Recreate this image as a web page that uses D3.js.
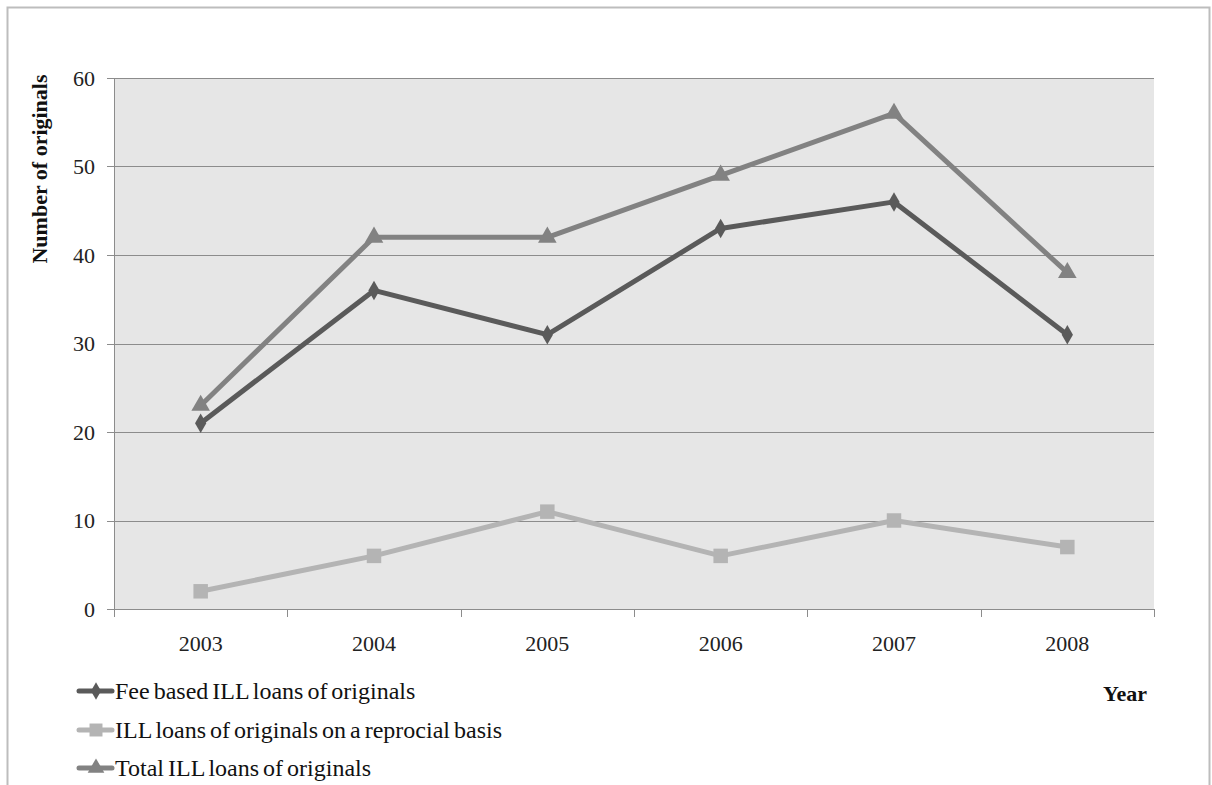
<!DOCTYPE html>
<html><head><meta charset="utf-8">
<script src="https://cdn.jsdelivr.net/npm/d3@7"></script>
<style>body{margin:0;background:#fff}svg{display:block}</style>
</head><body>
<svg id="c" width="1212" height="785"></svg>
<script>
const years = ["2003","2004","2005","2006","2007","2008"];
const feeBased = [21,36,31,43,46,31];
const reciprocal = [2,6,11,6,10,7];
const total = [23,42,42,49,56,38];
const yTicks = [0,10,20,30,40,50,60];
const seriesNames = ["Fee based ILL loans of originals","ILL loans of originals on a reprocial basis","Total ILL loans of originals"];

const svg = d3.select("#c");
const font = "'Liberation Serif','Times New Roman',serif";
svg.append("rect").attr("x",7.5).attr("y",7.5).attr("width",1202).attr("height",800)
  .attr("fill","none").attr("stroke","#bdbdbd").attr("stroke-width",2);

const L=114, R=1154, T=78, B=609;
const x = d3.scaleBand().domain(years).range([L,R]);
const y = d3.scaleLinear().domain([0,60]).range([B,T]);

svg.append("rect").attr("x",L).attr("y",T).attr("width",R-L).attr("height",B-T).attr("fill","#e6e6e6");

svg.append("g").selectAll("line").data(yTicks).join("line")
  .attr("x1",L-7).attr("x2",R).attr("y1",d=>Math.round(y(d))+0.5).attr("y2",d=>Math.round(y(d))+0.5)
  .attr("stroke","#8c8c8c").attr("stroke-width",1);
svg.append("line").attr("x1",L+0.5).attr("x2",L+0.5).attr("y1",T).attr("y2",B).attr("stroke","#8c8c8c");
svg.append("g").selectAll("text").data(yTicks).join("text")
  .attr("x",L-19).attr("y",d=>y(d)).attr("dy","0.35em").attr("text-anchor","end")
  .attr("font-family",font).attr("font-size",22).attr("fill","#222").text(d=>d);
const bounds = years.map(d=>x(d)).concat([R]);
svg.append("g").selectAll("line").data(bounds).join("line")
  .attr("x1",d=>Math.round(d)+0.5).attr("x2",d=>Math.round(d)+0.5).attr("y1",B).attr("y2",B+8)
  .attr("stroke","#8c8c8c");
svg.append("g").selectAll("text").data(years).join("text")
  .attr("x",d=>x(d)+x.bandwidth()/2).attr("y",651).attr("text-anchor","middle")
  .attr("font-family",font).attr("font-size",22).attr("fill","#222").text(d=>d);

svg.append("text").attr("transform","translate(47,169) rotate(-90)")
  .attr("text-anchor","middle").attr("font-family",font).attr("font-size",22).attr("font-weight","bold")
  .attr("fill","#111").text("Number of originals");
svg.append("text").attr("x",1147).attr("y",701).attr("text-anchor","end")
  .attr("font-family",font).attr("font-size",22).attr("font-weight","bold").attr("fill","#111").text("Year");

const series = [
  {name:seriesNames[0], values:feeBased, color:"#5a5a5a", sym:d3.symbolDiamond, size:110},
  {name:seriesNames[1], values:reciprocal, color:"#b4b4b4", sym:d3.symbolSquare, size:210},
  {name:seriesNames[2], values:total, color:"#828282", sym:d3.symbolTriangle, size:150}
];
const cx = d=>x(d)+x.bandwidth()/2;
const line = d3.line().x(d=>cx(d.year)).y(d=>y(d.v));
[1,0,2].forEach(i=>{
  const s = series[i];
  const pts = years.map((yr,j)=>({year:yr,v:s.values[j]}));
  svg.append("path").datum(pts).attr("d",line).attr("fill","none")
    .attr("stroke",s.color).attr("stroke-width",5).attr("stroke-linejoin","round");
  svg.append("g").selectAll("path").data(pts).join("path")
    .attr("transform",d=>`translate(${cx(d.year)},${y(d.v)})`)
    .attr("d",d3.symbol().type(s.sym).size(s.size)).attr("fill",s.color);
});

const ly = [691,730,768];
series.forEach((s,i)=>{
  const g = svg.append("g").attr("transform",`translate(0,${ly[i]})`);
  g.append("line").attr("x1",79).attr("x2",112).attr("y1",0).attr("y2",0)
    .attr("stroke",s.color).attr("stroke-width",5).attr("stroke-linecap","round");
  g.append("path").attr("transform","translate(96,0)")
    .attr("d",d3.symbol().type(s.sym).size(s.size*0.8)).attr("fill",s.color);
  g.append("text").attr("x",115).attr("y",0).attr("dy","0.35em").attr("word-spacing",-2)
    .attr("font-family",font).attr("font-size",24).attr("fill","#111").text(s.name);
});
</script>
</body></html>
